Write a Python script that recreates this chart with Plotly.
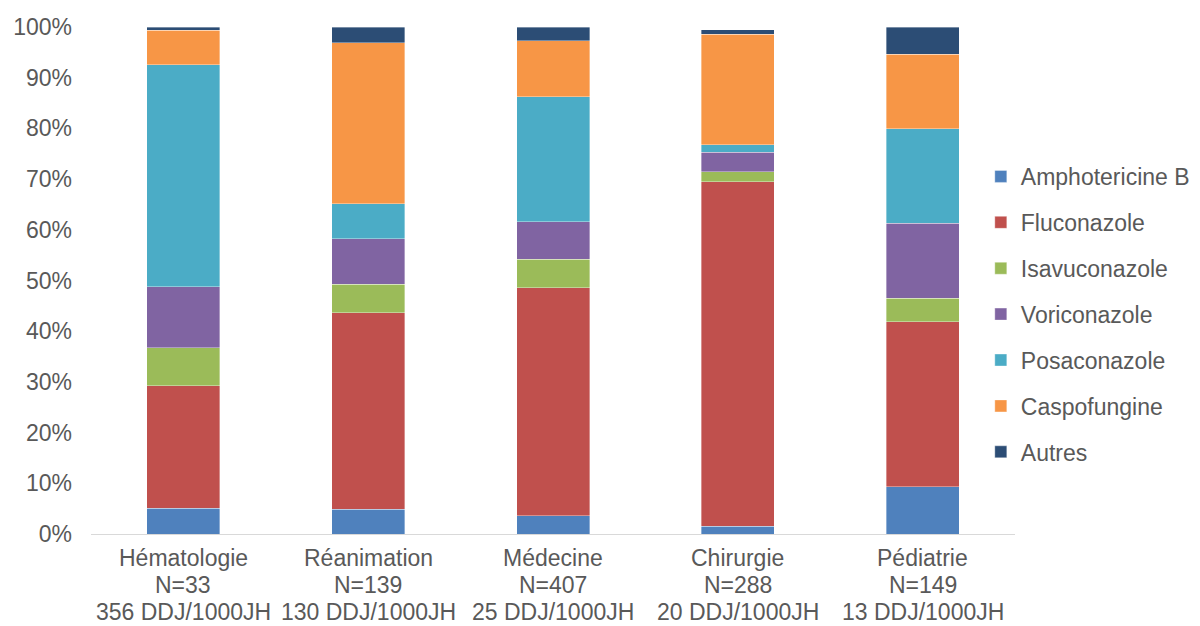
import plotly.graph_objects as go

# Services (x categories) with patient counts and consumption
services = ["Hématologie", "Réanimation", "Médecine", "Chirurgie", "Pédiatrie"]
n_patients = [33, 139, 407, 288, 149]
ddj = [356, 130, 25, 20, 13]

# Share of each antifungal in the consumption of each service (%)
amphotericine_b = [5.1, 4.9, 3.6, 1.5, 9.3]
fluconazole = [24.1, 38.7, 45.0, 68.0, 32.6]
isavuconazole = [7.5, 5.7, 5.6, 2.0, 4.6]
voriconazole = [12.1, 8.9, 7.4, 3.8, 14.8]
posaconazole = [43.8, 6.9, 24.6, 1.5, 18.6]
caspofungine = [6.8, 31.8, 11.1, 21.8, 14.7]
autres = [0.6, 3.1, 2.7, 0.9, 5.4]

series = [
    ("Amphotericine B", amphotericine_b, "#4F81BD"),
    ("Fluconazole", fluconazole, "#C0504D"),
    ("Isavuconazole", isavuconazole, "#9BBB59"),
    ("Voriconazole", voriconazole, "#8064A2"),
    ("Posaconazole", posaconazole, "#4BACC6"),
    ("Caspofungine", caspofungine, "#F79646"),
    ("Autres", autres, "#2C4D75"),
]

FONT = "Liberation Sans, Arial, sans-serif"
GREY = "#595959"
SIZE = 23

fig = go.Figure()
for name, vals, color in series:
    fig.add_trace(go.Bar(
        x=services, y=vals, name=name, legendgroup=name,
        marker=dict(color=color, line=dict(color="rgba(255,255,255,0.6)", width=0.6)),
        hovertemplate="%{y:.1f}%<extra>" + name + "</extra>",
    ))

# Three-line category labels under the axis, with tight line spacing
for s, n, d in zip(services, n_patients, ddj):
    for text, shift in ((s, -24), (f"N={n}", -51), (f"{d} DDJ/1000JH", -78)):
        fig.add_annotation(
            x=s, xref="x", y=0, yref="paper", yanchor="middle",
            yshift=shift, text=text, showarrow=False,
            font=dict(family=FONT, size=SIZE, color=GREY),
        )

fig.update_layout(
    barmode="stack",
    bargap=0.605,
    width=1200, height=626,
    margin=dict(l=91, r=185, t=27, b=92, autoexpand=False),
    paper_bgcolor="white", plot_bgcolor="white",
    font=dict(family=FONT, size=SIZE, color=GREY),
    xaxis=dict(
        showgrid=False, showline=True, linecolor="#D9D9D9", linewidth=1,
        ticks="", showticklabels=False,
    ),
    yaxis=dict(
        range=[0, 100], dtick=10, ticksuffix="%", showgrid=False,
        zeroline=False, showline=False, ticks="", ticklabelstandoff=18,
        tickfont=dict(size=SIZE, color=GREY),
    ),
    legend=dict(
        x=0.963, xanchor="left", y=0.433, yanchor="middle",
        traceorder="grouped", tracegroupgap=13,
        font=dict(size=SIZE, color=GREY),
        itemwidth=30,
    ),
    showlegend=True,
)

fig.write_html("out.html")
